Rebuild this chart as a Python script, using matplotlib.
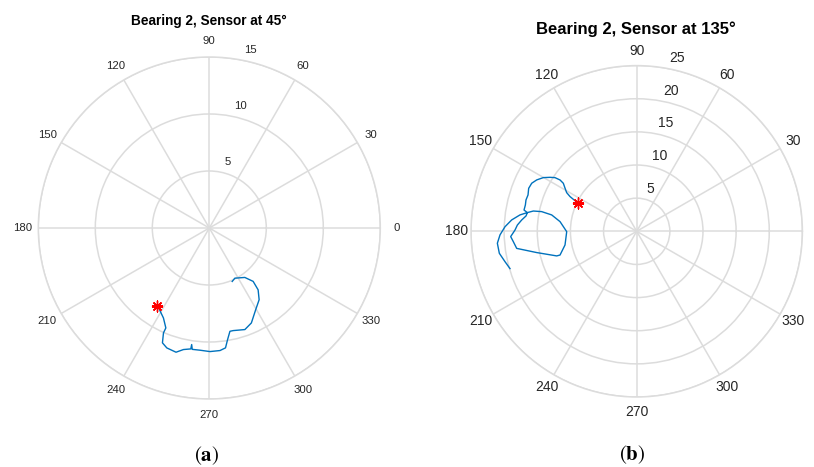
import numpy as np
import matplotlib
matplotlib.use("Agg")
import matplotlib.pyplot as plt
from matplotlib.transforms import ScaledTranslation

# angle (deg) / radius
theta_a = [236.3, 238.6, 243.0, 246.5, 246.4, 247.8, 250.5, 255.0, 258.0, 261.3,
           261.4, 262.0, 265.6, 270.3, 275.0, 277.7, 279.3, 281.3, 283.1, 289.3,
           293.9, 299.6, 304.8, 308.3, 309.4, 305.7, 297.0, 293.2]
r_a = [8.19, 8.39, 8.86, 9.56, 10.04, 10.88, 11.16, 11.28, 10.90, 10.73,
       10.34, 10.75, 10.75, 10.84, 10.79, 10.61, 9.92, 9.24, 9.24, 9.44,
       9.11, 8.24, 7.66, 6.91, 6.06, 5.34, 4.94, 5.10]

theta_b = [154.4, 153.4, 152.5, 151.1, 149.0, 146.8, 146.2, 146.7, 148.1, 150.1,
           152.8, 155.4, 158.3, 161.5, 164.2, 166.7, 169.3, 170.3,
           168.9, 168.3, 169.1, 172.8, 180.3, 190.8, 197.2, 197.1, 192.0, 188.1,
           184.8, 182.4, 179.4, 177.0, 174.4, 172.1, 170.3,
           172.0, 174.8, 178.0, 181.5, 184.9, 189.1, 193.0, 196.4]
r_b = [9.76, 10.57, 11.34, 12.07, 12.61, 13.23, 13.92, 14.75, 15.41, 16.25,
       16.96, 17.42, 17.54, 17.29, 17.36, 17.26, 17.30, 16.74,
       15.89, 14.64, 13.06, 11.66, 10.56, 11.01, 12.11, 12.63, 15.43, 18.29,
       18.68, 19.03, 18.36, 18.03, 17.44, 16.86, 16.74,
       17.78, 18.94, 19.88, 20.63, 21.10, 20.99, 20.39, 19.93]

angle_ticks = list(range(0, 360, 30))
labels_a = [str(a) for a in angle_ticks]
# the "0" of the right plot falls outside the picture in the original
labels_b = [''] + [str(a) for a in angle_ticks[1:]]
rticks_a = [5, 10, 15]
rticks_b = [5, 10, 15, 20, 25]

W, H = 814, 467
fig = plt.figure(figsize=(W / 100, H / 100), dpi=100)
plt.rcParams['font.family'] = ['Liberation Sans', 'DejaVu Sans']

grid_c = '#dcdcdc'
text_c = '#262626'


def make_polar(rect, theta, r, tlabels, rticks, fs, pad, shift):
    ax = fig.add_axes(rect, projection='polar')
    ax.plot(np.deg2rad(theta), r, color='#0072BD', lw=1.0)
    ax.plot(np.deg2rad(theta[0]), r[0], marker=(8, 2, 0), color='red',
            markersize=8, mew=1.0, ls='none')
    ax.set_thetagrids(angle_ticks, tlabels)
    ax.set_rlim(0, rticks[-1])
    ax.set_rticks(rticks)
    ax.set_rlabel_position(80)
    ax.grid(True, color=grid_c, lw=1.1)
    ax.spines['polar'].set_color(grid_c)
    ax.spines['polar'].set_linewidth(1.1)
    ax.tick_params(axis='x', pad=pad, labelsize=fs, colors=text_c)
    ax.tick_params(axis='y', labelsize=fs, colors=text_c)
    off = ScaledTranslation(shift[0] / 100, shift[1] / 100, fig.dpi_scale_trans)
    for t in ax.yaxis.get_major_ticks():
        t.label1.set_transform(t.label1.get_transform() + off)
    return ax


def frac(cx, cy, rad):
    return [(cx - rad) / W, (H - cy - rad) / H, 2 * rad / W, 2 * rad / H]


make_polar(frac(209.3, 228, 171), theta_a, r_a, labels_a, rticks_a, 8.2, 1.0, (5, 5))
make_polar(frac(636.7, 231.3, 165.7), theta_b, r_b, labels_b, rticks_b, 10, 0.0, (4, 3))

fig.text(209 / W, 1 - 20.7 / H, 'Bearing 2, Sensor at 45°', ha='center', va='center',
         fontsize=9.8, fontweight='bold', color='black')
fig.text(635.5 / W, 1 - 29 / H, 'Bearing 2, Sensor at 135°', ha='center', va='center',
         fontsize=12, fontweight='bold', color='black')

fig.text(207 / W, 1 - 456 / H, r'($\mathbf{a}$)', ha='center', va='center',
         fontsize=15, family='STIXGeneral', math_fontfamily='stix')
fig.text(632 / W, 1 - 455 / H, r'($\mathbf{b}$)', ha='center', va='center',
         fontsize=15, family='STIXGeneral', math_fontfamily='stix')

fig.savefig('out.png', dpi=100)
